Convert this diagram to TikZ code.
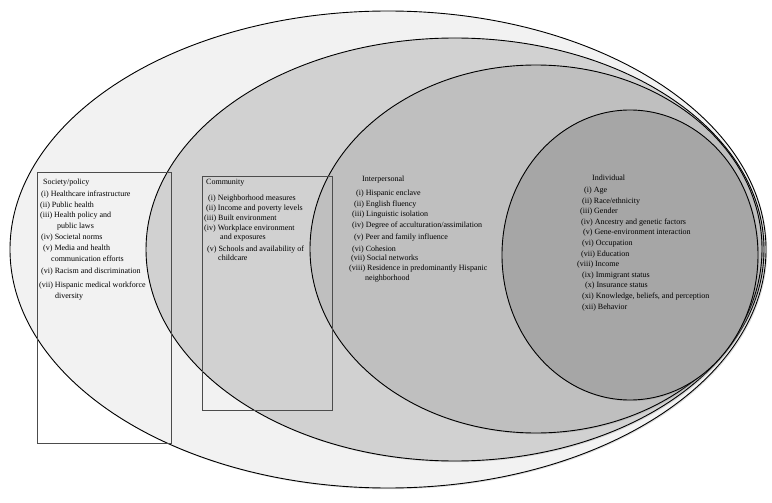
\documentclass[tikz,border=0pt]{standalone}
\usepackage{fontspec}
\setmainfont{Liberation Serif}
\usetikzlibrary{shadows}
\begin{document}
\begin{tikzpicture}[x=1pt,y=-1pt,
  ring/.style={draw=black,line width=0.9pt,drop shadow={opacity=0.25,shadow xshift=1.2pt,shadow yshift=-1.2pt}},
  listbox/.style={draw=black!70,line width=0.8pt},
  txt/.style={anchor=base west,inner sep=0pt,font=\fontsize{8}{9}\selectfont}]
\useasboundingbox (0,0) rectangle (772,503);
\fill[white] (0,0) rectangle (772,503);
% nested levels
\path[ring,fill=black!5]  (388,249.5) ellipse [x radius=378,y radius=238.5];
\path[ring,fill=black!18] (455,249.5) ellipse [x radius=309,y radius=211.5];
\path[ring,fill=black!25] (536,249)   ellipse [x radius=226,y radius=184];
\path[ring,fill=black!35] (630,255)   ellipse [x radius=128,y radius=145];
% boxes
\draw[listbox] (37,172) rectangle (171,443);
\draw[listbox] (202,176) rectangle (332,410);
% Society/policy
\foreach \x/\y/\t [count=\i] in {
  43/184/{Society/policy},
  41/196/{(i) Healthcare infrastructure},
  40/207/{(ii) Public health},
  40/217/{(iii) Health policy and},
  57/228/{public laws},
  41/239/{(iv) Societal norms},
  43/250/{(v) Media and health},
  51/261/{communication efforts},
  41/273/{(vi) Racism and discrimination},
  39/287/{(vii) Hispanic medical workforce},
  55/298/{diversity}}
  \node[txt] (soc\i) at (\x,\y) {\t};
% Community
\foreach \x/\y/\t [count=\i] in {
  206/184/{Community},
  208/200/{(i) Neighborhood measures},
  206/210/{(ii) Income and poverty levels},
  204/220/{(iii) Built environment},
  204/230/{(iv) Workplace environment},
  220/239/{and exposures},
  207/251/{(v) Schools and availability of},
  218/260/{childcare}}
  \node[txt] (com\i) at (\x,\y) {\t};
% Interpersonal
\foreach \x/\y/\t [count=\i] in {
  362/181/{Interpersonal},
  356/195/{(i) Hispanic enclave},
  354/206/{(ii) English fluency},
  352/216/{(iii) Linguistic isolation},
  352/227/{(iv) Degree of acculturation/assimilation},
  354/239/{(v) Peer and family influence},
  352/251/{(vi) Cohesion},
  351/260/{(vii) Social networks},
  349/270/{(viii) Residence in predominantly Hispanic},
  365/280/{neighborhood}}
  \node[txt] (int\i) at (\x,\y) {\t};
% Individual
\foreach \x/\y/\t [count=\i] in {
  592/180/{Individual},
  584/192/{(i) Age},
  582/203/{(ii) Race/ethnicity},
  580/213/{(iii) Gender},
  581/224/{(iv) Ancestry and genetic factors},
  583/234/{(v) Gene-environment interaction},
  582/245/{(vi) Occupation},
  581/256/{(vii) Education},
  577/266/{(viii) Income},
  582/277/{(ix) Immigrant status},
  585/287/{(x) Insurance status},
  582/298/{(xi) Knowledge, beliefs, and perception},
  582/309/{(xii) Behavior}}
  \node[txt] (ind\i) at (\x,\y) {\t};
\end{tikzpicture}
\end{document}
